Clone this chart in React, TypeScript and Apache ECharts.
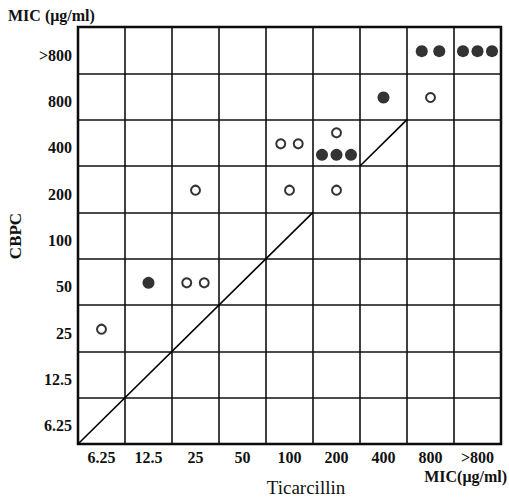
import React, { useEffect, useRef } from "react";
import * as echarts from "echarts";

const xCats = ["6.25", "12.5", "25", "50", "100", "200", "400", "800", ">800"];
const yCats = ["6.25", "12.5", "25", "50", "100", "200", "400", "800", ">800"];

// groups of strains: [ticarcillin MIC, CBPC MIC, count]
const openGroups: [string, string, number][] = [
  ["6.25", "25", 1],
  ["25", "50", 2],
  ["25", "200", 1],
  ["100", "200", 1],
  ["200", "200", 1],
  ["100", "400", 2],
  ["200", "400", 1],
  ["800", "800", 1],
];
const filledGroups: [string, string, number][] = [
  ["12.5", "50", 1],
  ["200", "400", 3],
  ["400", "800", 1],
  ["800", ">800", 2],
  [">800", ">800", 3],
];
// equal-MIC reference line segments, in grid-cell units
const diagonalSegments: [number, number][][] = [
  [
    [0, 0],
    [5, 5],
  ],
  [
    [6, 6],
    [7, 7],
  ],
];

const FONT = "'Liberation Serif', 'DejaVu Serif', serif";

function expand(groups: [string, string, number][], filled: boolean) {
  const out: any[] = [];
  groups.forEach(([x, y, n]) => {
    const mixed =
      openGroups.some((g) => g[0] === x && g[1] === y) &&
      filledGroups.some((g) => g[0] === x && g[1] === y);
    const dy = mixed ? (filled ? 12 : -10) : 1;
    const gap = n === 3 ? 14.5 : 17.5;
    for (let i = 0; i < n; i++) {
      const dx = (i - (n - 1) / 2) * gap;
      out.push({ value: [x, y], symbolOffset: [dx, dy] });
    }
  });
  return out;
}

export default function App() {
  const ref = useRef<HTMLDivElement>(null);
  useEffect(() => {
    if (!ref.current) return;
    const chart = echarts.init(ref.current, null, { renderer: "svg" });
    const labelStyle = {
      color: "#111",
      fontFamily: FONT,
      fontSize: 16,
      fontWeight: "bold" as const,
    };
    chart.setOption({
      animation: false,
      backgroundColor: "#fff",
      grid: {
        left: 78,
        top: 27,
        right: 8,
        bottom: 55,
        show: true,
        borderColor: "#000",
        borderWidth: 2.5,
        backgroundColor: "transparent",
      },
      xAxis: [
        {
          type: "category",
          data: xCats,
          boundaryGap: true,
          axisLine: { show: false },
          axisTick: { show: false },
          axisLabel: { ...labelStyle, margin: 5 },
          splitLine: { show: true, lineStyle: { color: "#111", width: 1.6 } },
        },
        { type: "value", min: 0, max: 9, show: false },
      ],
      yAxis: [
        {
          type: "category",
          data: yCats,
          boundaryGap: true,
          axisLine: { show: false },
          axisTick: { show: false },
          axisLabel: {
            ...labelStyle,
            margin: 6,
            verticalAlign: "top",
            lineHeight: 10,
          },
          splitLine: { show: true, lineStyle: { color: "#111", width: 1.6 } },
        },
        { type: "value", min: 0, max: 9, show: false },
      ],
      series: [
        ...diagonalSegments.map((seg) => ({
          type: "line",
          xAxisIndex: 1,
          yAxisIndex: 1,
          data: seg,
          symbol: "none",
          lineStyle: { color: "#000", width: 1.6 },
          z: 3,
        })),
        {
          type: "scatter",
          name: "open",
          data: expand(openGroups, false),
          symbol: "circle",
          symbolSize: 9,
          itemStyle: { color: "#fff", borderColor: "#000", borderWidth: 2 },
          z: 5,
        },
        {
          type: "scatter",
          name: "filled",
          data: expand(filledGroups, true),
          symbol: "circle",
          symbolSize: 12,
          itemStyle: { color: "#000" },
          z: 5,
        },
      ],
      graphic: [
        {
          type: "text",
          left: 8,
          top: 7,
          style: {
            text: "MIC (μg/ml)",
            fontFamily: FONT,
            fontSize: 16,
            fontWeight: "bold",
            fill: "#111",
          },
        },
        {
          type: "text",
          x: 15,
          y: 236,
          rotation: Math.PI / 2,
          style: {
            text: "CBPC",
            fontFamily: FONT,
            fontSize: 17,
            fontWeight: "bold",
            fill: "#111",
            align: "center",
            verticalAlign: "middle",
          },
        },
        {
          type: "text",
          x: 306,
          y: 487,
          style: {
            text: "Ticarcillin",
            fontFamily: FONT,
            fontSize: 19,
            fill: "#111",
            align: "center",
            verticalAlign: "middle",
          },
        },
        {
          type: "text",
          x: 507,
          y: 476,
          style: {
            text: "MIC(μg/ml)",
            fontFamily: FONT,
            fontSize: 16,
            fontWeight: "bold",
            fill: "#111",
            align: "right",
            verticalAlign: "middle",
          },
        },
      ],
    });
    return () => chart.dispose();
  }, []);
  return (
    <div
      ref={ref}
      style={{ position: "fixed", left: 0, top: 0, width: 509, height: 499 }}
    />
  );
}
